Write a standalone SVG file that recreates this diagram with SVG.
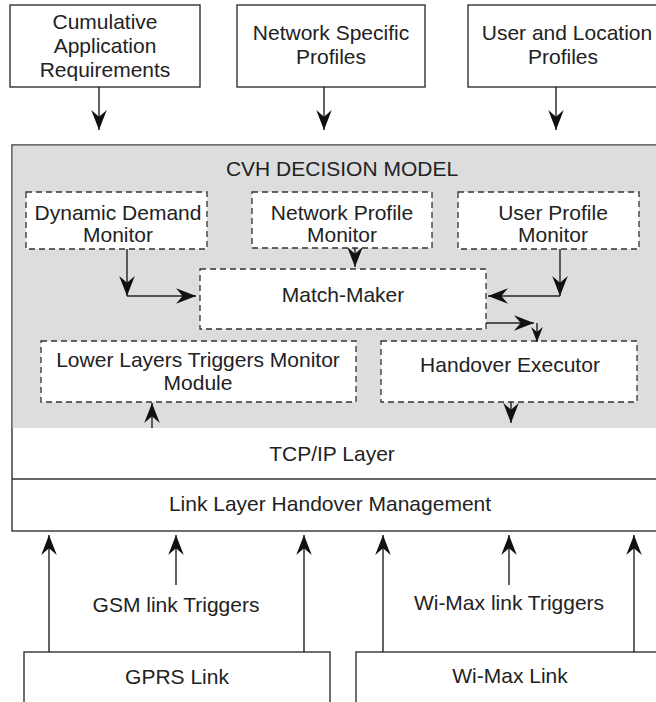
<svg xmlns="http://www.w3.org/2000/svg" width="656" height="702" viewBox="0 0 656 702">
<style>
text{font-family:"Liberation Sans",Arial,Helvetica,sans-serif;font-size:21px;fill:#222;text-anchor:middle}
.box{fill:#fff;stroke:#333;stroke-width:1.4}
.dash{fill:#fff;stroke:#333;stroke-width:1.3;stroke-dasharray:6,4}
.ln{fill:none;stroke:#222;stroke-width:1.4}
</style>
<defs>
<marker id="ah" viewBox="0 0 18 14" markerWidth="20" markerHeight="16" refX="18" refY="7" orient="auto" markerUnits="userSpaceOnUse"><path d="M0,0 L18,7 L0,14 L6,7 z" fill="#111"/></marker>
<marker id="as" viewBox="0 0 18 14" markerWidth="15" markerHeight="12" refX="18" refY="7" orient="auto" markerUnits="userSpaceOnUse"><path d="M0,0 L18,7 L0,14 L6,7 z" fill="#111"/></marker>
</defs>
<g id="outer">
<rect x="12" y="145" width="650" height="386" class="box"/>
<rect x="12.7" y="145.7" width="648" height="282.3" fill="#dcdddf"/>
<line x1="12" y1="479" x2="656" y2="479" stroke="#333" stroke-width="1.4"/>
<text x="342" y="176">CVH DECISION MODEL</text>
<text x="332" y="461">TCP/IP Layer</text>
<text x="330" y="511">Link Layer Handover Management</text>
</g>
<g id="car"><rect x="10" y="5" width="190" height="82" class="box"/><text x="105" y="29">Cumulative</text><text x="105" y="53">Application</text><text x="105" y="77">Requirements</text></g>
<g id="nsp"><rect x="237" y="5" width="188" height="82" class="box"/><text x="331" y="40">Network Specific</text><text x="331" y="64">Profiles</text></g>
<g id="ulp"><rect x="468" y="5" width="192" height="82" class="box"/><text x="567" y="40">User and Location</text><text x="563" y="64">Profiles</text></g>
<g id="ddm"><rect x="26" y="192" width="181" height="57" class="dash"/><text x="118" y="220">Dynamic Demand</text><text x="118" y="242">Monitor</text></g>
<g id="npm"><rect x="252" y="192" width="180" height="56" class="dash"/><text x="342" y="220">Network Profile</text><text x="342" y="242">Monitor</text></g>
<g id="upm"><rect x="458" y="192" width="181" height="57" class="dash"/><text x="553" y="220">User Profile</text><text x="553" y="242">Monitor</text></g>
<g id="mm"><rect x="200" y="269" width="286" height="60" class="dash"/><text x="343" y="302">Match-Maker</text></g>
<g id="llt"><rect x="41" y="341" width="315" height="61" class="dash"/><text x="198" y="367">Lower Layers Triggers Monitor</text><text x="198" y="390">Module</text></g>
<g id="he"><rect x="381" y="341" width="256" height="61" class="dash"/><text x="510" y="372">Handover Executor</text></g>
<g id="gprs"><rect x="24" y="652" width="306" height="60" class="box"/><text x="177" y="684">GPRS Link</text></g>
<g id="wimax"><rect x="356" y="652" width="310" height="60" class="box"/><text x="510" y="683">Wi-Max Link</text></g>
<g id="connectors">
<path class="ln" d="M99,87 V130" marker-end="url(#ah)"/>
<path class="ln" d="M324,87 V130" marker-end="url(#ah)"/>
<path class="ln" d="M556,87 V130" marker-end="url(#ah)"/>
<path class="ln" d="M127,249 V296" marker-end="url(#ah)"/>
<path class="ln" d="M127,296 H196" marker-end="url(#ah)"/>
<path class="ln" d="M355,248 V267" marker-end="url(#ah)"/>
<path class="ln" d="M560,249 V296" marker-end="url(#ah)"/>
<path class="ln" d="M560,296 H488" marker-end="url(#ah)"/>
<path class="ln" d="M486,323 H534" marker-end="url(#ah)"/>
<path class="ln" d="M537,323 V342" marker-end="url(#as)"/>
<path class="ln" d="M152,428 V403" marker-end="url(#ah)"/>
<path class="ln" d="M511,402 V423" marker-end="url(#ah)"/>
<path class="ln" d="M49,652 V535" marker-end="url(#ah)"/>
<path class="ln" d="M176,585 V535" marker-end="url(#ah)"/>
<path class="ln" d="M304,652 V535" marker-end="url(#ah)"/>
<path class="ln" d="M383,652 V535" marker-end="url(#ah)"/>
<path class="ln" d="M509,585 V535" marker-end="url(#ah)"/>
<path class="ln" d="M634,652 V535" marker-end="url(#ah)"/>
<text x="176" y="612">GSM link Triggers</text>
<text x="509" y="610">Wi-Max link Triggers</text>
</g>
</svg>
